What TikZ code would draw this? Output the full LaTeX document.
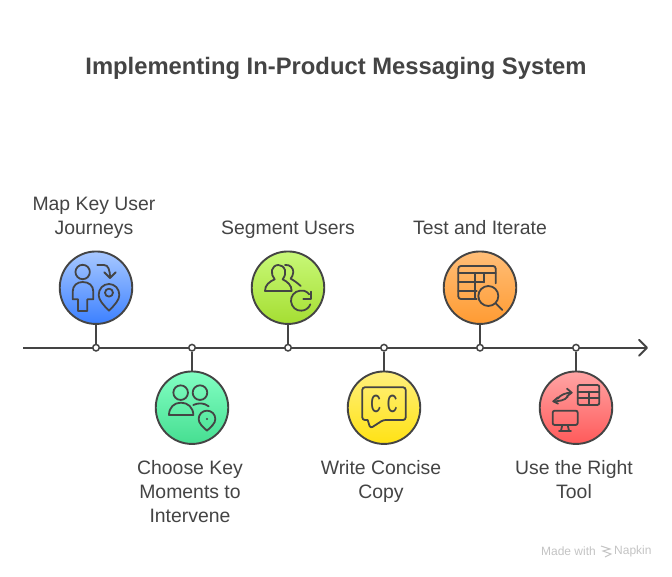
\documentclass[tikz,border=0pt]{standalone}
\usepackage{fontspec}
\setmainfont{Liberation Sans}
\newfontfamily\ccfont{Liberation Mono}
\definecolor{ink}{HTML}{444444}
\definecolor{wm}{HTML}{C4C4C4}
\tikzset{
  stem/.style={draw=ink,line width=1.9pt},
  axisline/.style={draw=ink,line width=1.9pt},
  badge/.style={circle,draw=ink,line width=1.9pt,minimum size=72.5pt,inner sep=0pt,shading angle=0},
  tick/.style={circle,draw=ink,fill=white,line width=1.5pt,minimum size=6.5pt,inner sep=0pt},
  label/.style={text=ink,align=center,font=\fontsize{19.4}{24}\selectfont},
  icon/.style={draw=ink,line width=1.8pt,line join=round,line cap=round},
  zoomed/.style={x=0.3333pt,y=-0.3333pt},
}
\begin{document}
\begin{tikzpicture}[x=1pt,y=-1pt]
\useasboundingbox (0,0) rectangle (672,576);
\fill[white] (0,0) rectangle (672,576);
\node[text=ink,font=\bfseries\fontsize{23.8}{28}\selectfont] (title) at (336,68.5) {Implementing In-Product Messaging System};

\coordinate (start) at (23,347.7);
\coordinate (end) at (647,347.7);
\draw[axisline] (start) -- (end);
\draw[axisline,line cap=round,line join=round] (639,339.7) -- (end) -- (639,355.7);

\node[badge,top color={rgb,255:red,168;green,200;blue,255},bottom color={rgb,255:red,60;green,128;blue,255}] (b1) at (96,287.7) {};
\node[badge,top color={rgb,255:red,130;green,255;blue,195},bottom color={rgb,255:red,70;green,222;blue,145}] (b2) at (192,407.7) {};
\node[badge,top color={rgb,255:red,200;green,248;blue,120},bottom color={rgb,255:red,165;green,222;blue,50}] (b3) at (288,287.7) {};
\node[badge,top color={rgb,255:red,255;green,240;blue,125},bottom color={rgb,255:red,255;green,226;blue,20}] (b4) at (384,407.7) {};
\node[badge,top color={rgb,255:red,255;green,190;blue,120},bottom color={rgb,255:red,255;green,155;blue,50}] (b5) at (480,287.7) {};
\node[badge,top color={rgb,255:red,255;green,165;blue,165},bottom color={rgb,255:red,255;green,90;blue,90}] (b6) at (576,407.7) {};

\foreach \n/\x in {t1/96,t2/192,t3/288,t4/384,t5/480,t6/576}{
  \node[tick] (\n) at (\x,347.7) {};
}
\draw[stem] (b1) -- (t1);
\draw[stem] (b2) -- (t2);
\draw[stem] (b3) -- (t3);
\draw[stem] (b4) -- (t4);
\draw[stem] (b5) -- (t5);
\draw[stem] (b6) -- (t6);

\begin{scope}[shift={(50,240)},zoomed]
% icon 1
\draw[icon] (98,96) circle[radius=7.2pt];
\draw[icon] (68,178) -- (68,155) .. controls (68,136) and (82,126) .. (98,126) .. controls (116,126) and (130,136) .. (130,155) -- (130,178) -- (112,178) -- (112,213) -- (84,213) -- (84,178) -- cycle;
\draw[icon] (142,75) -- (162,75) .. controls (175,75) and (180,90) .. (180,114);
\draw[icon] (163,97) -- (180,114) -- (197,97);
\draw[icon] (177,158) circle[radius=4pt];
\draw[icon] (177,212) .. controls (160,195) and (146,180) .. (146,165) .. controls (146,146) and (160,132) .. (177,132) .. controls (194,132) and (208,146) .. (208,165) .. controls (208,180) and (194,195) .. (177,212) -- cycle;
% icon 2
\draw[icon] (392,458) circle[radius=7.3pt];
\draw[icon] (450,458) circle[radius=7.3pt];
\draw[icon] (357,525) -- (430,525) .. controls (430,503) and (414,488) .. (393,488) .. controls (372,488) and (357,503) .. (357,525) -- cycle;
\draw[icon] (430,495) .. controls (445,488) and (462,488) .. (476,499);
\draw[icon] (471,572) .. controls (458,560) and (446,550) .. (446,537) .. controls (446,523) and (457,512) .. (471,512) .. controls (485,512) and (496,523) .. (496,537) .. controls (496,550) and (484,560) .. (471,572) -- cycle;
\fill[ink] (471,537) circle[radius=1.2pt];
\end{scope}

\begin{scope}[shift={(240,240)},zoomed]
% icon 3
\draw[icon] (75,153) -- (155,153) .. controls (155,135) and (142,125) .. (128,118) .. controls (135,108) and (138,98) .. (135,90) .. controls (131,80) and (124,75) .. (115,75) .. controls (105,75) and (98,82) .. (96,90) .. controls (94,100) and (97,110) .. (104,118) .. controls (88,125) and (75,135) .. (75,153) -- cycle;
\draw[icon] (135,75) .. controls (150,73) and (160,84) .. (160,96) .. controls (160,104) and (156,110) .. (152,116) .. controls (162,122) and (172,128) .. (182,138);
\draw[icon] (208,163) .. controls (198,152) and (188,150) .. (180,152) .. controls (163,154) and (152,168) .. (153,184) .. controls (155,201) and (168,213) .. (184,212) .. controls (196,212) and (207,204) .. (211,193);
\draw[icon] (190,178) -- (213,178) -- (213,155);
% icon 4
\draw[icon,rounded corners=2.5pt] (383,540) -- (367,540) -- (367,442) -- (497,442) -- (497,540) -- (430,540) -- (391,565) -- (383,540);
\node[text=ink,font=\ccfont\fontsize{26}{26}\selectfont,xscale=0.72,inner sep=0pt] (cc) at (432,492) {C\kern7pt C};
\end{scope}

\begin{scope}[shift={(430,240)},zoomed]
% icon 5
\draw[icon,rounded corners=2.5pt] (197,130) -- (197,78) -- (85,78) -- (85,177) -- (140,177);
\draw[icon] (85,100) -- (197,100);
\draw[icon] (85,127) -- (160,127);
\draw[icon] (85,152) -- (140,152);
\draw[icon] (135,100) -- (135,177);
\draw[icon] (162,100) -- (162,127);
\draw[icon] (175,168) circle[radius=10pt];
\draw[icon] (197,190) -- (217,210);
% icon 6
\draw[icon,rounded corners=2pt] (443,435) rectangle (508,495);
\draw[icon] (443,455) -- (508,455);
\draw[icon] (443,475) -- (508,475);
\draw[icon] (476,455) -- (476,495);
\draw[icon,rounded corners=2pt] (368,512) rectangle (443,555);
\draw[icon] (397,555) -- (393,572);
\draw[icon] (413,555) -- (417,572);
\draw[icon] (387,572) -- (423,572);
\draw[icon] (383,476) .. controls (392,464) and (408,458) .. (425,458);
\draw[icon] (411,446) -- (425,458) -- (411,469);
\draw[icon] (413,470) .. controls (405,481) and (388,484) .. (370,484);
\draw[icon] (384,472) -- (370,484) -- (384,491);
\end{scope}

\node[label,anchor=south] (l1) at (94,245) {Map Key User\\Journeys\strut};
\node[label,anchor=south] (l3) at (288,245) {Segment Users\strut};
\node[label,anchor=south] (l5) at (480,245) {Test and Iterate\strut};
\node[label,anchor=north] (l2) at (190,454) {\strut Choose Key\\Moments to\\Intervene};
\node[label,anchor=north] (l4) at (381,454) {\strut Write Concise\\Copy};
\node[label,anchor=north] (l6) at (574,454) {\strut Use the Right\\Tool};

\node[text=wm,font=\fontsize{12}{13}\selectfont,anchor=east,inner sep=0pt] (wm1) at (596,551) {Made with};
\node[text=wm,font=\fontsize{12}{13}\selectfont,anchor=west,inner sep=0pt] (wm2) at (614,551) {Napkin};
\draw[wm,line width=1pt] (601,546) -- (610,549) -- (603,551) -- (611,554) -- (605,557);
\end{tikzpicture}
\end{document}
